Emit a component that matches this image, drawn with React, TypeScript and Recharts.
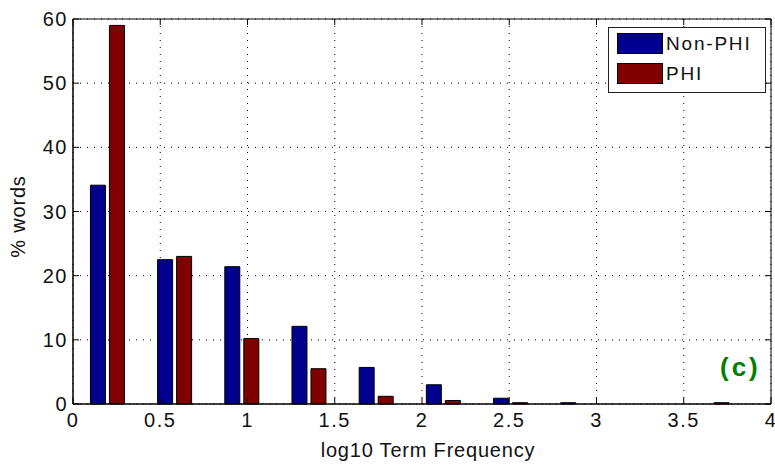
import React from "react";
import {
  BarChart,
  Bar,
  XAxis,
  YAxis,
  CartesianGrid,
  Legend,
  ReferenceArea,
} from "recharts";

// bin centres (log10 term frequency) and % of words per bin
const binCenters = [0.195, 0.58, 0.965, 1.35, 1.735, 2.12, 2.505, 2.89, 3.275, 3.66];
const nonPhi = [34.1, 22.5, 21.4, 12.1, 5.7, 3.0, 0.9, 0.2, 0, 0];
const phi = [59.0, 23.0, 10.2, 5.5, 1.2, 0.55, 0.2, 0, 0, 0.2];

const xTicks = [0, 0.5, 1, 1.5, 2, 2.5, 3, 3.5, 4];
const yTicks = [0, 10, 20, 30, 40, 50, 60];

const seriesNames = ["Non-PHI", "PHI"];
const seriesColors = ["#00008F", "#800000"];

const WIDTH = 775;
const HEIGHT = 465;
const MARGIN = { top: 19, right: 4, bottom: 0, left: 0 };
const Y_AXIS_W = 73;
const X_AXIS_H = 61;
const PLOT_LEFT = MARGIN.left + Y_AXIS_W;
const PLOT_RIGHT = WIDTH - MARGIN.right;
const PLOT_TOP = MARGIN.top;
const PLOT_BOTTOM = HEIGHT - MARGIN.bottom - X_AXIS_H;
const TICK_LEN = 6;

const FONT = '"Liberation Sans", Arial, Helvetica, sans-serif';
const tickStyle = { fontFamily: FONT, fontSize: 20, letterSpacing: 1.5, fill: "#111" };
const labelStyle = { fontFamily: FONT, fontSize: 20, letterSpacing: 0.8, fill: "#111" };

const data = binCenters.map((x, i) => ({ x, nonPhi: nonPhi[i], phi: phi[i] }));

const fmt = (v: number) => String(v);

const XTick = (props: any) => {
  const { x, y, payload } = props;
  return (
    <g>
      <line x1={x} x2={x} y1={PLOT_BOTTOM} y2={PLOT_BOTTOM - TICK_LEN} stroke="#000" />
      <line x1={x} x2={x} y1={PLOT_TOP} y2={PLOT_TOP + TICK_LEN} stroke="#000" />
      <text x={x} y={y} dy="0.71em" textAnchor="middle" style={tickStyle}>
        {fmt(payload.value)}
      </text>
    </g>
  );
};

const YTick = (props: any) => {
  const { x, y, payload } = props;
  return (
    <g>
      <line x1={PLOT_LEFT} x2={PLOT_LEFT + TICK_LEN} y1={y} y2={y} stroke="#000" />
      <line x1={PLOT_RIGHT} x2={PLOT_RIGHT - TICK_LEN} y1={y} y2={y} stroke="#000" />
      <text x={x} y={y} dy="0.355em" textAnchor="end" style={tickStyle}>
        {fmt(payload.value)}
      </text>
    </g>
  );
};

const LegendBox = () => (
  <div
    style={{
      border: "1px solid #222",
      background: "#fff",
      padding: "4px 6px 8px 8px",
      fontFamily: FONT,
      fontSize: 19,
      letterSpacing: 1.8,
      color: "#111",
    }}
  >
    {seriesNames.map((name, i) => (
      <div
        key={name}
        style={{ display: "flex", alignItems: "center", height: 21, marginTop: i === 0 ? 1 : 9 }}
      >
        <span
          style={{
            display: "inline-block",
            width: 44,
            height: 19,
            background: seriesColors[i],
            border: "1px solid #000",
            marginRight: 3,
          }}
        />
        <span>{name}</span>
      </div>
    ))}
  </div>
);

const App = () => {
  return (
    <div style={{ position: "absolute", left: 0, top: 0, width: WIDTH, height: HEIGHT, background: "#fff" }}>
      <BarChart width={WIDTH} height={HEIGHT} data={data} margin={MARGIN} barGap={4}>
        <CartesianGrid
          stroke="#000"
          strokeDasharray="1 6"
          horizontalValues={yTicks}
          verticalValues={xTicks}
        />
        <ReferenceArea x1={0} x2={4} y1={0} y2={60} fill="none" stroke="#000" strokeWidth={1} ifOverflow="visible" />
        <XAxis
          dataKey="x"
          type="number"
          domain={[0, 4]}
          ticks={xTicks}
          height={X_AXIS_H}
          tickSize={0}
          tickMargin={9}
          axisLine={{ stroke: "#000" }}
          tick={<XTick />}
          interval={0}
          label={{
            content: (p: any) => {
              const vb = p.viewBox;
              return (
                <text x={vb.x + vb.width / 2 + 6} y={457} textAnchor="middle" style={labelStyle}>
                  log10 Term Frequency
                </text>
              );
            },
          }}
        />
        <YAxis
          type="number"
          domain={[0, 60]}
          ticks={yTicks}
          width={Y_AXIS_W}
          tickSize={0}
          tickMargin={5}
          axisLine={{ stroke: "#000" }}
          tick={<YTick />}
          interval={0}
          label={{
            content: (p: any) => {
              const vb = p.viewBox;
              const cy = vb.y + vb.height / 2 + 5;
              return (
                <text
                  transform={`translate(${vb.x + 25},${cy}) rotate(-90)`}
                  textAnchor="middle"
                  style={labelStyle}
                >
                  % words
                </text>
              );
            },
          }}
        />
        <Legend
          layout="horizontal"
          align="center"
          verticalAlign="middle"
          content={<LegendBox />}
          wrapperStyle={{ left: 608, top: 27, width: 158, height: "auto" }}
        />
        <Bar
          dataKey="nonPhi"
          name={seriesNames[0]}
          fill={seriesColors[0]}
          stroke="#000"
          strokeWidth={1}
          barSize={15}
          isAnimationActive={false}
        />
        <Bar
          dataKey="phi"
          name={seriesNames[1]}
          fill={seriesColors[1]}
          stroke="#000"
          strokeWidth={1}
          barSize={15}
          isAnimationActive={false}
        />
      </BarChart>
      <div
        style={{
          position: "absolute",
          left: 720,
          top: 352,
          fontFamily: FONT,
          fontWeight: "bold",
          fontSize: 26,
          letterSpacing: 3,
          color: "#008000",
        }}
      >
        (c)
      </div>
    </div>
  );
};

export default App;
